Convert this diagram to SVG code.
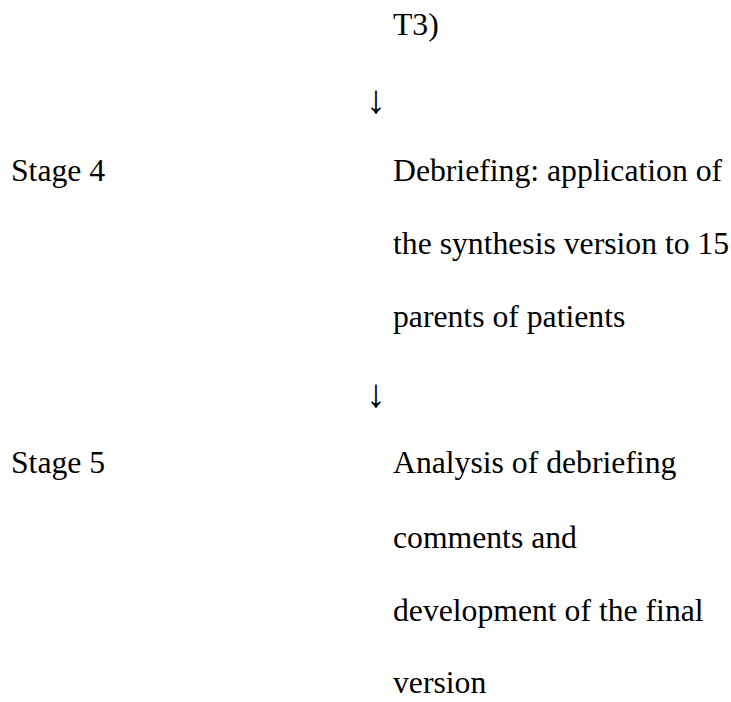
<svg xmlns="http://www.w3.org/2000/svg" width="731" height="702" viewBox="0 0 731 702">
<style>
text{font-family:"Liberation Serif","Times New Roman",serif;font-size:31.7px;fill:#000}
.arr{font-size:40px}
</style>
<rect width="731" height="702" fill="#fff"/>
<g id="stage3-tail"><text x="393" y="35">T3)</text></g>
<g id="connectors">
<text class="arr" x="366" y="113">↓</text>
<text class="arr" x="366" y="407">↓</text>
</g>
<g id="stage4">
<text x="11" y="181">Stage 4</text>
<text x="393" y="181">Debriefing: application of</text>
<text x="393" y="254">the synthesis version to 15</text>
<text x="393" y="327">parents of patients</text>
</g>
<g id="stage5">
<text x="11" y="473">Stage 5</text>
<text x="393" y="473">Analysis of debriefing</text>
<text x="393" y="548">comments and</text>
<text x="393" y="621">development of the final</text>
<text x="393" y="693">version</text>
</g>
</svg>
